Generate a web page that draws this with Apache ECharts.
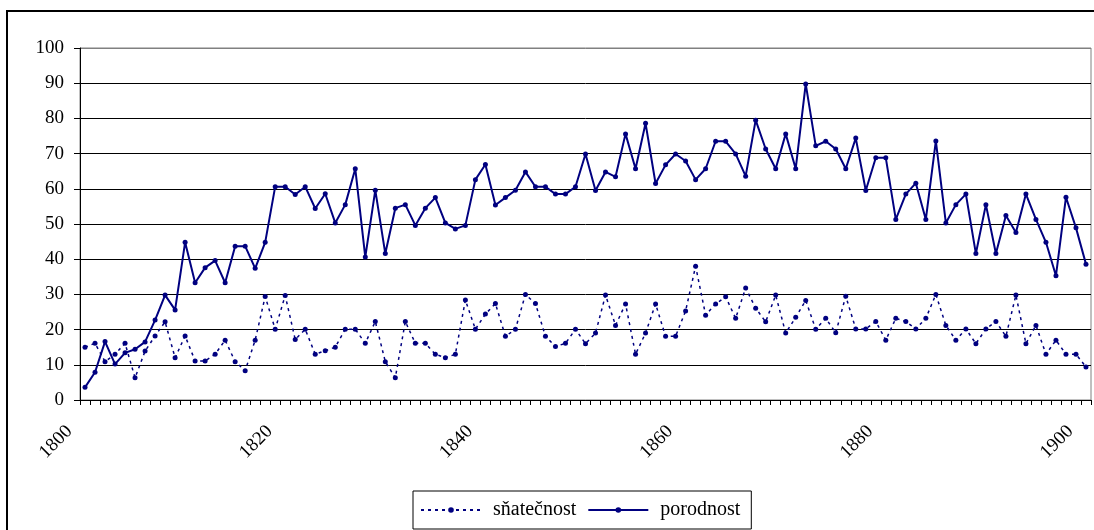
<!DOCTYPE html>
<html>
<head>
<meta charset="utf-8">
<script src="https://cdn.jsdelivr.net/npm/echarts@6/dist/echarts.min.js"></script>
<style>
html,body{margin:0;padding:0;background:#fff;}
#chart{width:1094px;height:530px;}
</style>
</head>
<body>
<div id="chart"></div>
<script>
// Years (categories)
const years = [];
for (let y = 1800; y <= 1900; y++) years.push(String(y));

const seriesNames = ['sňatečnost', 'porodnost'];

// sňatečnost (marriage rate), 1800..1900
const snatecnost = [
  15.0, 16.1, 10.9, 13.0, 16.1, 6.3, 13.9, 18.2, 22.2, 12.0,
  18.2, 11.1, 11.1, 13.0, 17.0, 10.9, 8.3, 17.0, 29.4, 20.1,
  29.7, 17.2, 20.1, 13.0, 14.0, 15.0, 20.1, 20.1, 16.1, 22.3,
  10.9, 6.3, 22.3, 16.1, 16.1, 13.0, 12.0, 13.0, 28.4, 20.1,
  24.4, 27.4, 18.1, 20.1, 30.0, 27.4, 18.1, 15.2, 16.1, 20.1,
  16.0, 19.0, 29.8, 21.2, 27.3, 13.0, 19.0, 27.3, 18.1, 18.1,
  25.3, 38.0, 24.1, 27.3, 29.3, 23.2, 31.8, 26.1, 22.2, 29.8,
  19.0, 23.5, 28.3, 20.1, 23.2, 19.1, 29.5, 20.2, 20.2, 22.3,
  17.0, 23.2, 22.3, 20.2, 23.2, 30.0, 21.2, 17.0, 20.2, 16.0,
  20.2, 22.3, 18.1, 29.8, 16.0, 21.2, 13.0, 17.0, 13.0, 13.0,
  9.4
];

// porodnost (birth rate), 1800..1900
const porodnost = [
  3.6, 7.9, 16.6, 10.2, 13.4, 14.4, 16.5, 22.7, 29.8, 25.6,
  44.8, 33.3, 37.6, 39.6, 33.3, 43.7, 43.7, 37.4, 44.8, 60.6,
  60.6, 58.4, 60.6, 54.4, 58.6, 50.3, 55.5, 65.7, 40.6, 59.6,
  41.6, 54.5, 55.5, 49.6, 54.5, 57.5, 50.3, 48.6, 49.6, 62.6,
  66.9, 55.4, 57.5, 59.6, 64.8, 60.6, 60.6, 58.5, 58.5, 60.6,
  69.9, 59.5, 64.8, 63.4, 75.6, 65.7, 78.6, 61.5, 66.8, 69.9,
  67.9, 62.6, 65.7, 73.5, 73.5, 69.9, 63.6, 79.5, 71.3, 65.7,
  75.6, 65.7, 89.8, 72.2, 73.5, 71.3, 65.7, 74.4, 59.5, 68.8,
  68.8, 51.3, 58.5, 61.6, 51.3, 73.6, 50.3, 55.5, 58.5, 41.6,
  55.5, 41.6, 52.4, 47.6, 58.5, 51.3, 44.8, 35.3, 57.6, 48.9,
  38.6
];

const FONT = 'Liberation Serif';
const NAVY = '#000080';

const chart = echarts.init(document.getElementById('chart'), null, {renderer: 'canvas'});

const splitColors = [];
for (let i = 0; i < 10; i++) splitColors.push('#000000');
splitColors.push('#808080');

chart.setOption({
  animation: false,
  backgroundColor: '#ffffff',
  graphic: [{
    type: 'rect',
    shape: {x: 7, y: 11, width: 1200, height: 1000},
    style: {fill: 'none', stroke: '#000', lineWidth: 2},
    silent: true,
    z: 100
  }],
  grid: {left: 80, right: 3, top: 48, bottom: 130, show: true, borderColor: '#808080', borderWidth: 1},
  legend: {
    left: 413, top: 491,
    orient: 'horizontal',
    data: seriesNames,
    borderColor: '#000', borderWidth: 1,
    padding: [9, 11, 9, 7],
    itemGap: 11,
    itemWidth: 60, itemHeight: 7,
    textStyle: {fontFamily: FONT, fontSize: 20, color: '#000', lineHeight: 20, padding: [0, 0, 0, 7]}
  },
  xAxis: {
    type: 'category',
    data: years,
    boundaryGap: true,
    axisLine: {show: true, lineStyle: {color: '#000', width: 1}},
    axisTick: {show: true, interval: 0, length: 5, lineStyle: {color: '#000', width: 1}},
    axisLabel: {
      interval: function (idx) { return idx % 20 === 0; },
      rotate: 45,
      margin: 13,
      padding: [0, 22, 0, 0],
      fontFamily: FONT, fontSize: 19, color: '#000'
    },
    splitLine: {show: false}
  },
  yAxis: {
    type: 'value',
    min: 0, max: 100, interval: 10,
    axisLine: {show: true, lineStyle: {color: '#000', width: 1}},
    axisTick: {show: true, length: 6, lineStyle: {color: '#000', width: 1}},
    axisLabel: {margin: 16, fontFamily: FONT, fontSize: 19, color: '#000'},
    splitLine: {show: true, lineStyle: {color: splitColors, width: 1}}
  },
  series: [
    {
      name: seriesNames[0],
      type: 'line',
      data: snatecnost,
      color: NAVY,
      symbol: 'circle', symbolSize: 5,
      showSymbol: true,
      itemStyle: {color: NAVY},
      lineStyle: {color: NAVY, width: 1.5, type: [3, 4]}
    },
    {
      name: seriesNames[1],
      type: 'line',
      data: porodnost,
      color: NAVY,
      symbol: 'circle', symbolSize: 5,
      showSymbol: true,
      itemStyle: {color: NAVY},
      lineStyle: {color: NAVY, width: 2, type: 'solid'}
    }
  ]
});
</script>
</body>
</html>
